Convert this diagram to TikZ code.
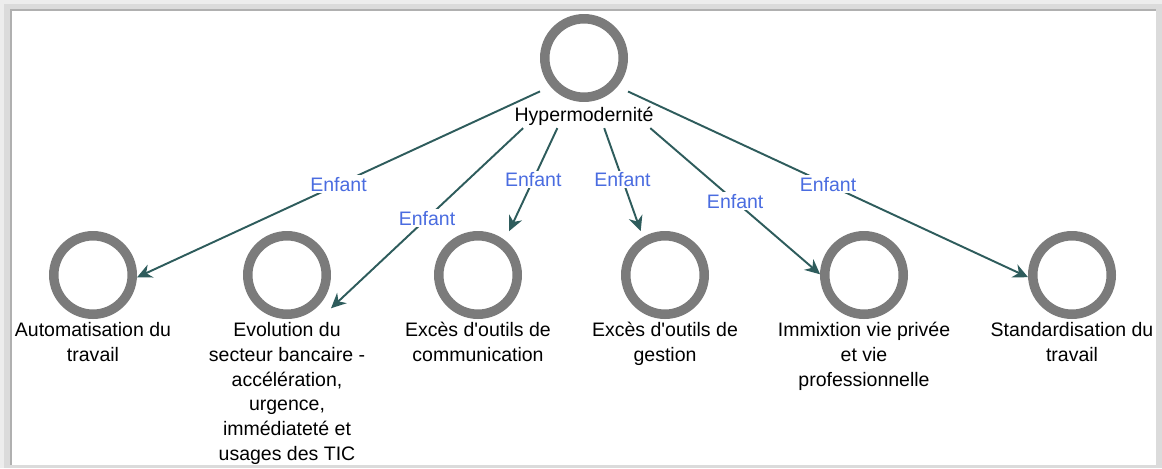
\documentclass[tikz,border=0pt]{standalone}
\usepackage{fontspec}
\newfontfamily\diagfont{Liberation Sans}
\usepackage{tikz}
\usetikzlibrary{arrows, arrows.meta}
\usetikzlibrary{positioning,calc}
\definecolor{ringgray}{HTML}{7B7B7B}
\definecolor{linkteal}{HTML}{2E5C5C}
\definecolor{relblue}{HTML}{4A6CE0}
\tikzstyle{edge}=[arrows={-{Stealth[length=8.5pt,width=8pt]}}, draw=linkteal, line width=1.1pt]
\tikzset{
    ent/.style={rectangle, inner sep=0pt, outer sep=0pt, minimum size=1.76cm,
        path picture={\draw[ringgray, line width=0.19cm] (path picture bounding box.center) circle (0.785cm);}},
    lbl/.style={align=center, inner sep=1.5pt, font=\diagfont\fontsize{11.1pt}{14.2pt}\selectfont},
    rel/.style={midway, fill=white, inner sep=1pt, text=relblue, font=\diagfont\fontsize{11.1pt}{14.2pt}\selectfont},
    midof/.style args={#1 and #2}{
         at = ($(#1)!0.5!(#2)$)
    }
}

\begin{document}
\begin{tikzpicture}[x=0.02cm, y=-0.02cm]
  % frame
  \fill[gray!28] (0,0) rectangle (1162,468);
  \fill[gray!14] (0,0) rectangle (1162,4);
  \fill[gray!14] (0,0) rectangle (4,468);
  \fill[white] (11,10) rectangle (1156,465);
  \draw[gray!62, line width=1pt] (11,465) -- (11,10) -- (1156,10);

  % root
  \node[ent] (hyp) at (584,58) {};
  \node[lbl, below=1pt of hyp] (hyp_l) {Hypermodernité};

  % children
  \node[ent] (auto) at (93,275) {};
  \node[ent] (evol) at (287,275) {};
  \node[ent] (comm) at (478,275) {};
  \node[ent] (gest) at (665,275) {};
  \node[ent] (immx) at (864,275) {};
  \node[ent] (stand) at (1072,275) {};

  \node[lbl, below=0pt of auto] (auto_l) {Automatisation du\\travail};
  \node[lbl, below=0pt of evol] (evol_l) {Evolution du\\secteur bancaire -\\accélération,\\urgence,\\immédiateté et\\usages des TIC};
  \node[lbl, below=0pt of comm] (comm_l) {Excès d'outils de\\communication};
  \node[lbl, below=0pt of gest] (gest_l) {Excès d'outils de\\gestion};
  \node[lbl, below=0pt of immx] (immx_l) {Immixtion vie privée\\et vie\\professionnelle};
  \node[lbl, below=0pt of stand] (stand_l) {Standardisation du\\travail};

  % centres of circle + label
  \coordinate[midof=hyp.north and hyp_l.south] (hub);
  \coordinate[midof=auto.north and auto_l.south] (q_auto);
  \coordinate[midof=evol.north and evol_l.south] (q_evol);
  \coordinate[midof=comm.north and comm_l.south] (q_comm);
  \coordinate[midof=gest.north and gest_l.south] (q_gest);
  \coordinate[midof=immx.north and immx_l.south] (q_immx);
  \coordinate[midof=stand.north and stand_l.south] (q_stand);

  % links
  \draw[edge] (intersection of hub--q_auto and hyp.north west--hyp.south west)
     -- (intersection of hub--q_auto and auto.north east--auto.south east) node[rel] {Enfant};
  \draw[edge] (intersection of hub--q_evol and hyp_l.south west--hyp_l.south east)
     -- (intersection of hub--q_evol and evol.north east--evol.south east) node[rel] {Enfant};
  \draw[edge] (intersection of hub--q_comm and hyp_l.south west--hyp_l.south east)
     -- (intersection of hub--q_comm and comm.north west--comm.north east) node[rel] {Enfant};
  \draw[edge] (intersection of hub--q_gest and hyp_l.south west--hyp_l.south east)
     -- (intersection of hub--q_gest and gest.north west--gest.north east) node[rel] {Enfant};
  \draw[edge] (intersection of hub--q_immx and hyp_l.south west--hyp_l.south east)
     -- (intersection of hub--q_immx and immx.north west--immx.south west) node[rel] {Enfant};
  \draw[edge] (intersection of hub--q_stand and hyp.north east--hyp.south east)
     -- (intersection of hub--q_stand and stand.north west--stand.south west) node[rel] {Enfant};
\end{tikzpicture}
\end{document}
